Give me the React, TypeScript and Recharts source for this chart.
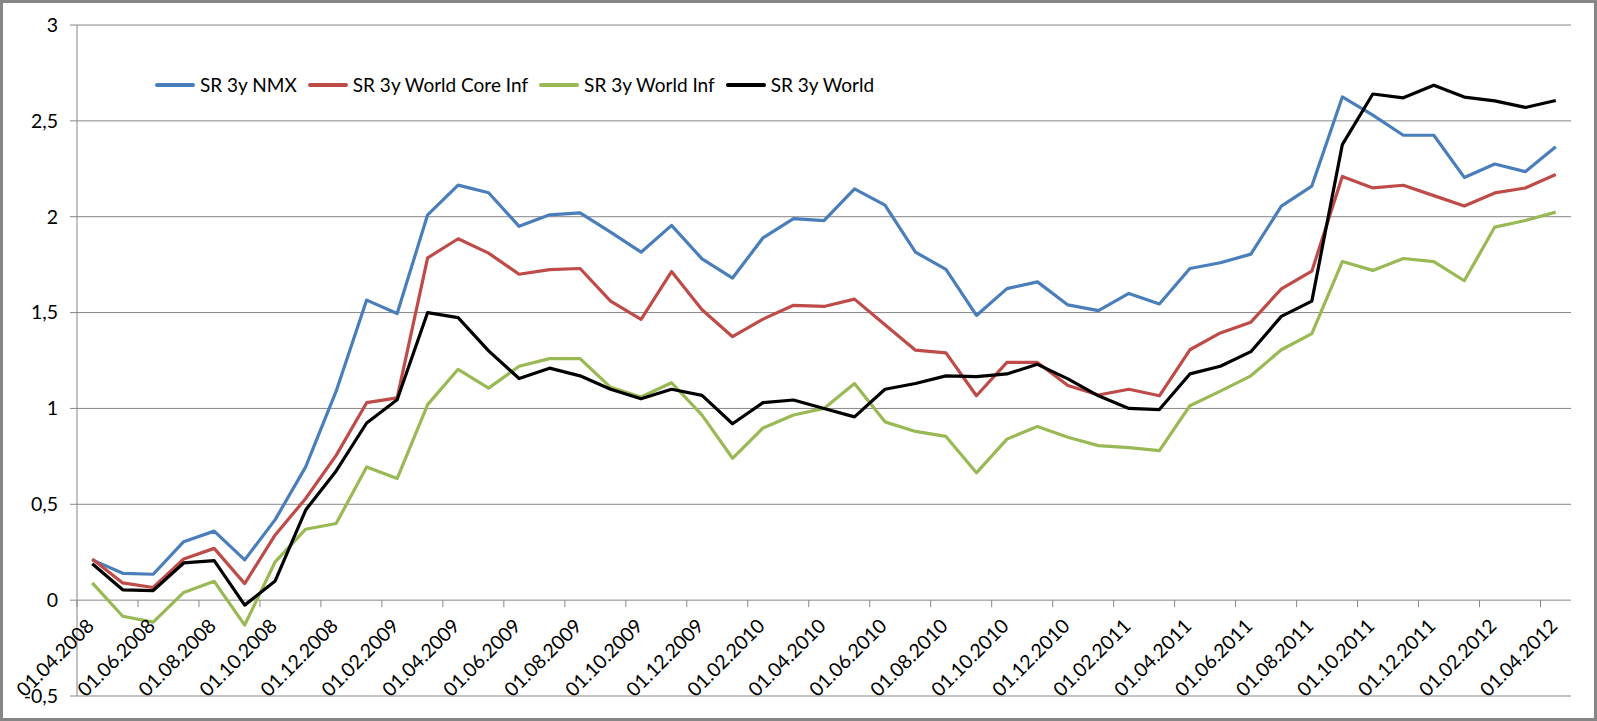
import { LineChart, Line, XAxis, YAxis, CartesianGrid, Legend } from "recharts";

const DATES = [
  "01.04.2008", "01.05.2008", "01.06.2008", "01.07.2008", "01.08.2008", "01.09.2008", "01.10.2008", "01.11.2008", "01.12.2008",
  "01.01.2009", "01.02.2009", "01.03.2009", "01.04.2009", "01.05.2009", "01.06.2009", "01.07.2009", "01.08.2009", "01.09.2009",
  "01.10.2009", "01.11.2009", "01.12.2009",
  "01.01.2010", "01.02.2010", "01.03.2010", "01.04.2010", "01.05.2010", "01.06.2010", "01.07.2010", "01.08.2010", "01.09.2010",
  "01.10.2010", "01.11.2010", "01.12.2010",
  "01.01.2011", "01.02.2011", "01.03.2011", "01.04.2011", "01.05.2011", "01.06.2011", "01.07.2011", "01.08.2011", "01.09.2011",
  "01.10.2011", "01.11.2011", "01.12.2011",
  "01.01.2012", "01.02.2012", "01.03.2012", "01.04.2012",
];

const SR_NMX = [
  0.21, 0.14, 0.135, 0.305, 0.36, 0.21, 0.42, 0.695, 1.09, 1.565, 1.495, 2.01, 2.165, 2.125, 1.95, 2.01, 2.02,
  1.92, 1.815, 1.955, 1.78, 1.68, 1.89, 1.99, 1.98, 2.145, 2.06, 1.815, 1.725, 1.485, 1.625, 1.66, 1.54,
  1.51, 1.6, 1.545, 1.73, 1.76, 1.805, 2.055, 2.16, 2.625, 2.53, 2.425, 2.425, 2.205, 2.275, 2.235, 2.365,
];

const SR_CORE_INF = [
  0.215, 0.09, 0.066, 0.215, 0.27, 0.086, 0.34, 0.53, 0.755, 1.03, 1.055, 1.785, 1.885, 1.81, 1.7, 1.724, 1.73,
  1.56, 1.464, 1.714, 1.515, 1.374, 1.466, 1.538, 1.532, 1.57, 1.436, 1.304, 1.29, 1.066, 1.24, 1.24, 1.12,
  1.07, 1.1, 1.066, 1.306, 1.394, 1.45, 1.624, 1.716, 2.21, 2.15, 2.164, 2.11, 2.056, 2.124, 2.15, 2.22,
];

const SR_WORLD_INF = [
  0.09, -0.084, -0.115, 0.04, 0.098, -0.13, 0.2, 0.37, 0.4, 0.694, 0.634, 1.02, 1.204, 1.106, 1.22, 1.26, 1.26,
  1.11, 1.06, 1.134, 0.965, 0.74, 0.898, 0.966, 1.0, 1.13, 0.93, 0.88, 0.854, 0.664, 0.84, 0.906, 0.85,
  0.806, 0.796, 0.78, 1.014, 1.09, 1.17, 1.306, 1.39, 1.766, 1.72, 1.782, 1.766, 1.666, 1.946, 1.98, 2.024,
];

const SR_WORLD = [
  0.19, 0.054, 0.05, 0.194, 0.206, -0.026, 0.1, 0.47, 0.674, 0.924, 1.045, 1.5, 1.474, 1.3, 1.156, 1.21, 1.17,
  1.1, 1.05, 1.1, 1.068, 0.92, 1.03, 1.044, 1.0, 0.956, 1.1, 1.13, 1.17, 1.166, 1.18, 1.23, 1.154,
  1.066, 1.0, 0.994, 1.18, 1.22, 1.296, 1.48, 1.56, 2.376, 2.64, 2.62, 2.686, 2.624, 2.604, 2.57, 2.606,
];

const Y_TICKS = [-0.5, 0, 0.5, 1, 1.5, 2, 2.5, 3];

const SERIES = [
  { key: "nmx", name: "SR 3y NMX", color: "#4A7EBB", values: SR_NMX },
  { key: "core", name: "SR 3y World Core Inf", color: "#BE4B48", values: SR_CORE_INF },
  { key: "inf", name: "SR 3y World Inf", color: "#98B954", values: SR_WORLD_INF },
  { key: "world", name: "SR 3y World", color: "#000000", values: SR_WORLD },
];

const data = DATES.map((date, i) => {
  const row: Record<string, any> = { date };
  SERIES.forEach((s) => { row[s.key] = s.values[i]; });
  return row;
});

const FONT = "Lato, 'Open Sans', sans-serif";
const FONT_SIZE = 19.5;
const LEGEND_FONT_SIZE = 19;
const GRID = "#868686";

const W = 1591;
const H = 715;
const MARGIN = { top: 22, right: 23, left: 0, bottom: 0 };
const Y_AXIS_W = 74;
const X_AXIS_H = 22;
const Y_MIN = -0.5;
const Y_MAX = 3;
const PLOT_H = H - MARGIN.top - MARGIN.bottom - X_AXIS_H;
const PLOT_W = W - MARGIN.left - MARGIN.right - Y_AXIS_W;
const ZERO_Y = MARGIN.top + (PLOT_H * Y_MAX) / (Y_MAX - Y_MIN);
const HALF_BAND = PLOT_W / DATES.length / 2;

// x axis crosses at 0 in the original, so labels and tick marks hang off the zero line
function DateTick({ x, payload }: any) {
  const ax = x + 3;
  const ay = ZERO_Y + 27;
  return (
    <g>
      <line x1={x - HALF_BAND} x2={x - HALF_BAND} y1={ZERO_Y} y2={ZERO_Y + 7} stroke={GRID} strokeWidth={1} />
      <text
        x={ax}
        y={ay}
        textAnchor="end"
        transform={`rotate(-45, ${ax}, ${ay})`}
        fill="#000"
        fontFamily={FONT}
        fontSize={FONT_SIZE}
      >
        {payload.value}
      </text>
    </g>
  );
}

// keep legend entries in series order (recharts sorts them by name otherwise)
function LegendContent({ payload }: any) {
  const order = SERIES.map((s) => s.name);
  const items = [...(payload || [])].sort((a: any, b: any) => order.indexOf(a.value) - order.indexOf(b.value));
  return (
    <div style={{ display: "flex", alignItems: "center", fontFamily: FONT, fontSize: LEGEND_FONT_SIZE, color: "#000" }}>
      {items.map((p: any) => (
        <div key={p.value} style={{ display: "flex", alignItems: "center", marginRight: 11 }}>
          <span style={{ display: "inline-block", width: 40, height: 4, borderRadius: 2, background: p.color, marginRight: 5 }} />
          <span style={{ whiteSpace: "nowrap" }}>{p.value}</span>
        </div>
      ))}
    </div>
  );
}

export default function App() {
  return (
    <div
      style={{
        position: "relative",
        width: 1597,
        height: 721,
        border: `3px solid ${GRID}`,
        boxSizing: "border-box",
        background: "#fff",
      }}
    >
      <style>{`body{margin:0}`}</style>
      <LineChart width={W} height={H} data={data} margin={MARGIN}>
        <CartesianGrid vertical={false} stroke={GRID} strokeWidth={1} />
        <XAxis
          dataKey="date"
          interval={1}
          padding={{ left: HALF_BAND, right: HALF_BAND }}
          axisLine={false}
          tickLine={false}
          height={X_AXIS_H}
          tick={<DateTick />}
        />
        <YAxis
          domain={[Y_MIN, Y_MAX]}
          ticks={Y_TICKS}
          width={Y_AXIS_W}
          tickFormatter={(v: number) => String(v).replace(".", ",")}
          axisLine={{ stroke: GRID }}
          tickLine={{ stroke: GRID }}
          tickSize={7}
          tickMargin={12}
          tick={{ fill: "#000", fontFamily: FONT, fontSize: FONT_SIZE }}
        />
        <Legend
          layout="horizontal"
          verticalAlign="middle"
          align="center"
          content={<LegendContent />}
          wrapperStyle={{ top: 70, left: 152, width: "auto", height: "auto" }}
        />
        {SERIES.map((s) => (
          <Line
            key={s.key}
            type="linear"
            dataKey={s.key}
            name={s.name}
            stroke={s.color}
            strokeWidth={3.2}
            strokeLinejoin="round"
            dot={false}
            activeDot={false}
            isAnimationActive={false}
          />
        ))}
      </LineChart>
    </div>
  );
}
